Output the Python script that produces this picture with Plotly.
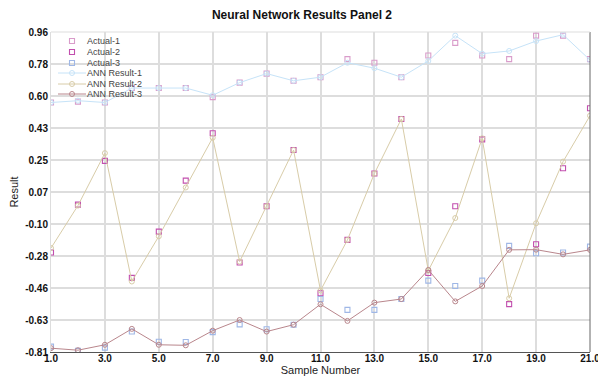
import plotly.graph_objects as go

samples = list(range(1, 22))

ann1 = [0.57, 0.58, 0.57, 0.65, 0.65, 0.65, 0.61, 0.68, 0.73, 0.69, 0.71,
        0.79, 0.76, 0.71, 0.80, 0.94, 0.84, 0.855, 0.91, 0.945, 0.805]
act1 = [0.57, 0.575, 0.57, 0.65, 0.65, 0.65, 0.60, 0.68, 0.73, 0.69, 0.71,
        0.81, 0.79, 0.71, 0.83, 0.90, 0.83, 0.81, 0.94, 0.94, 0.81]

ann2 = [-0.235, 0.0, 0.29, -0.42, -0.17, 0.10, 0.375, -0.31, -0.004, 0.307, -0.47,
        -0.19, 0.177, 0.479, -0.36, -0.069, 0.372, -0.513, -0.098, 0.243, 0.497]
act2 = [-0.26, 0.005, 0.247, -0.40, -0.144, 0.138, 0.40, -0.315, -0.004, 0.307, -0.485,
        -0.19, 0.177, 0.479, -0.373, -0.004, 0.366, -0.545, -0.214, 0.206, 0.538]

ann3 = [-0.789, -0.80, -0.77, -0.682, -0.77, -0.773, -0.692, -0.633, -0.697, -0.659, -0.546,
        -0.638, -0.537, -0.517, -0.356, -0.53, -0.445, -0.245, -0.244, -0.27, -0.245]
act3 = [-0.78, -0.804, -0.786, -0.697, -0.753, -0.755, -0.70, -0.657, -0.684, -0.659, -0.517,
        -0.577, -0.577, -0.517, -0.415, -0.445, -0.415, -0.223, -0.264, -0.26, -0.227]

y_ticks = [-0.81, -0.633, -0.456, -0.279, -0.102, 0.075, 0.252, 0.429, 0.606, 0.783, 0.96]
y_labels = ["-0.81", "-0.63", "-0.46", "-0.28", "-0.10", "0.07", "0.25", "0.43", "0.60", "0.78", "0.96"]
x_ticks = [1, 3, 5, 7, 9, 11, 13, 15, 17, 19, 21]
x_labels = ["1.0", "3.0", "5.0", "7.0", "9.0", "11.0", "13.0", "15.0", "17.0", "19.0", "21.0"]

c_act1 = "#d99cca"
c_act2 = "#c24fae"
c_act3 = "#9fb7e6"
c_ann1 = "#c6e3f8"
c_ann2 = "#d8cca8"
c_ann3 = "#b9868c"

actual_series = [("Actual-1", act1, c_act1), ("Actual-2", act2, c_act2), ("Actual-3", act3, c_act3)]
ann_series = [("ANN Result-1", ann1, c_ann1), ("ANN Result-2", ann2, c_ann2), ("ANN Result-3", ann3, c_ann3)]

fig = go.Figure()
for name, vals, col in actual_series:
    fig.add_trace(go.Scatter(x=samples, y=vals, name=name, mode="markers", showlegend=False,
                             marker=dict(symbol="square-open", size=5, color=col, line=dict(width=1.1))))
for name, vals, col in ann_series:
    fig.add_trace(go.Scatter(x=samples, y=vals, name=name, mode="lines+markers", showlegend=False,
                             line=dict(color=col, width=1.0),
                             marker=dict(symbol="circle-open", size=5, color=col, line=dict(width=1.0))))

# compact legend (top-left inside plot area)
plot_top, plot_h, plot_left, plot_w = 32, 320, 51, 539
row_px = [41, 52, 63, 73, 84, 94]
annotations = []
shapes = []
entries = [(n, c, "square") for n, _, c in actual_series] + [(n, c, "line") for n, _, c in ann_series]
for (name, col, kind), py in zip(entries, row_px):
    yp = 1 - (py - plot_top) / plot_h
    xm = (72 - plot_left) / plot_w
    annotations.append(dict(text=name, xref="paper", yref="paper", x=(85 - plot_left) / plot_w, y=yp,
                            xanchor="left", yanchor="middle", showarrow=False,
                            font=dict(size=9, color="#444")))
    if kind == "square":
        shapes.append(dict(type="rect", xref="paper", yref="paper", xsizemode="pixel", ysizemode="pixel",
                           xanchor=xm, yanchor=yp, x0=-2.5, x1=2.5, y0=-2.5, y1=2.5,
                           line=dict(color=col, width=1.1)))
    else:
        shapes.append(dict(type="line", xref="paper", yref="paper",
                           x0=(58 - plot_left) / plot_w, x1=(86 - plot_left) / plot_w, y0=yp, y1=yp,
                           line=dict(color=col, width=1.0)))
        shapes.append(dict(type="circle", xref="paper", yref="paper", xsizemode="pixel", ysizemode="pixel",
                           xanchor=xm, yanchor=yp, x0=-2.5, x1=2.5, y0=-2.5, y1=2.5,
                           line=dict(color=col, width=1.0)))

shapes.append(dict(type="line", xref="paper", yref="paper", x0=1, x1=1, y0=0, y1=1,
                   line=dict(color="#666", width=1)))
shapes.append(dict(type="line", xref="paper", yref="paper", x0=0, x1=1, y0=1, y1=1,
                   line=dict(color="#dddddd", width=1)))

fig.update_layout(
    width=598, height=376,
    margin=dict(l=51, r=8, t=32, b=24),
    paper_bgcolor="white", plot_bgcolor="white",
    font=dict(family="Liberation Sans, Arial", color="#222"),
    title=dict(text="<b>Neural Network Results Panel 2</b>", x=0.505, xanchor="center",
               y=1 - 15 / 376, yanchor="middle", yref="container",
               font=dict(size=12, color="#111")),
    showlegend=False,
    xaxis=dict(range=[1, 21], tickvals=x_ticks, ticktext=x_labels,
               showgrid=True, gridcolor="#dddddd", gridwidth=1.5,
               showline=True, linecolor="#555", linewidth=1, zeroline=False,
               tickfont=dict(size=10, color="#111", weight="bold"), ticks="",
               ticklabeloverflow="allow", ticklabelstandoff=-3,
               title=dict(text="Sample Number", font=dict(size=11, color="#222"), standoff=0),
               automargin=False),
    yaxis=dict(range=[-0.81, 0.96], tickvals=y_ticks, ticktext=y_labels,
               showgrid=True, gridcolor="#dddddd", gridwidth=1.5,
               showline=True, linecolor="#dddddd", linewidth=1, zeroline=False,
               tickfont=dict(size=10, color="#111", weight="bold"), ticks="",
               ticklabeloverflow="allow",
               title=dict(text="Result", font=dict(size=11, color="#222"), standoff=4),
               automargin=False),
    annotations=annotations,
    shapes=shapes,
)

fig.write_html("out.html", config={"displayModeBar": False},
               post_script="document.body.style.margin='0';document.body.style.overflow='hidden';")
